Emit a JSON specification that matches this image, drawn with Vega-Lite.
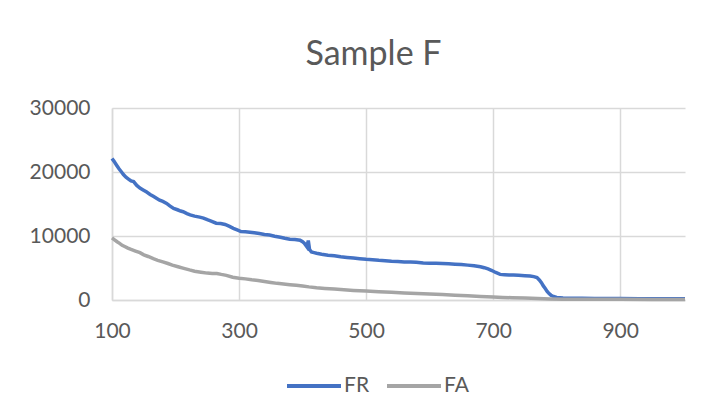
{
 "$schema": "https://vega.github.io/schema/vega-lite/v6.json",
 "width": 573, "height": 192,
 "autosize": {"type": "none"},
 "padding": {"left": 112, "top": 108, "right": 43, "bottom": 117},
 "background": "white",
 "title": {"text": "Sample F", "font": "Lato", "fontSize": 34, "fontWeight": "normal", "color": "#595959", "offset": 25, "dx": -25},
 "data": {"values": [
  {"x":100,"y":22100,"s":"FR"},{"x":103,"y":21700,"s":"FR"},{"x":107,"y":21100,"s":"FR"},{"x":111,"y":20500,"s":"FR"},{"x":115,"y":20000,"s":"FR"},{"x":118,"y":19600,"s":"FR"},{"x":122,"y":19200,"s":"FR"},{"x":126,"y":18900,"s":"FR"},{"x":130,"y":18600,"s":"FR"},{"x":134,"y":18500,"s":"FR"},{"x":139,"y":17900,"s":"FR"},{"x":144,"y":17500,"s":"FR"},{"x":149,"y":17200,"s":"FR"},{"x":154,"y":16900,"s":"FR"},{"x":160,"y":16500,"s":"FR"},{"x":165,"y":16200,"s":"FR"},{"x":170,"y":15900,"s":"FR"},{"x":175,"y":15600,"s":"FR"},{"x":180,"y":15400,"s":"FR"},{"x":186,"y":15100,"s":"FR"},{"x":191,"y":14700,"s":"FR"},{"x":197,"y":14300,"s":"FR"},{"x":203,"y":14100,"s":"FR"},{"x":208,"y":13900,"s":"FR"},{"x":212,"y":13800,"s":"FR"},{"x":218,"y":13500,"s":"FR"},{"x":223,"y":13300,"s":"FR"},{"x":230,"y":13100,"s":"FR"},{"x":238,"y":12950,"s":"FR"},{"x":244,"y":12800,"s":"FR"},{"x":250,"y":12550,"s":"FR"},{"x":257,"y":12300,"s":"FR"},{"x":264,"y":12000,"s":"FR"},{"x":271,"y":11950,"s":"FR"},{"x":278,"y":11800,"s":"FR"},{"x":285,"y":11500,"s":"FR"},{"x":291,"y":11200,"s":"FR"},{"x":297,"y":10950,"s":"FR"},{"x":303,"y":10700,"s":"FR"},{"x":310,"y":10650,"s":"FR"},{"x":317,"y":10600,"s":"FR"},{"x":324,"y":10500,"s":"FR"},{"x":332,"y":10400,"s":"FR"},{"x":340,"y":10250,"s":"FR"},{"x":348,"y":10150,"s":"FR"},{"x":356,"y":9950,"s":"FR"},{"x":365,"y":9800,"s":"FR"},{"x":372,"y":9650,"s":"FR"},{"x":380,"y":9500,"s":"FR"},{"x":388,"y":9450,"s":"FR"},{"x":396,"y":9350,"s":"FR"},{"x":400,"y":9100,"s":"FR"},{"x":403,"y":8850,"s":"FR"},{"x":407,"y":8300,"s":"FR"},{"x":409,"y":9300,"s":"FR"},{"x":411,"y":7900,"s":"FR"},{"x":414,"y":7500,"s":"FR"},{"x":418,"y":7400,"s":"FR"},{"x":422,"y":7300,"s":"FR"},{"x":430,"y":7150,"s":"FR"},{"x":440,"y":7000,"s":"FR"},{"x":450,"y":6900,"s":"FR"},{"x":460,"y":6750,"s":"FR"},{"x":470,"y":6650,"s":"FR"},{"x":480,"y":6550,"s":"FR"},{"x":490,"y":6450,"s":"FR"},{"x":500,"y":6350,"s":"FR"},{"x":510,"y":6300,"s":"FR"},{"x":520,"y":6200,"s":"FR"},{"x":530,"y":6150,"s":"FR"},{"x":540,"y":6050,"s":"FR"},{"x":550,"y":6000,"s":"FR"},{"x":560,"y":5950,"s":"FR"},{"x":570,"y":5950,"s":"FR"},{"x":579,"y":5900,"s":"FR"},{"x":590,"y":5800,"s":"FR"},{"x":600,"y":5750,"s":"FR"},{"x":610,"y":5750,"s":"FR"},{"x":620,"y":5700,"s":"FR"},{"x":630,"y":5650,"s":"FR"},{"x":640,"y":5600,"s":"FR"},{"x":650,"y":5550,"s":"FR"},{"x":660,"y":5450,"s":"FR"},{"x":670,"y":5350,"s":"FR"},{"x":680,"y":5200,"s":"FR"},{"x":686,"y":5050,"s":"FR"},{"x":692,"y":4850,"s":"FR"},{"x":698,"y":4600,"s":"FR"},{"x":704,"y":4300,"s":"FR"},{"x":711,"y":4000,"s":"FR"},{"x":718,"y":3950,"s":"FR"},{"x":725,"y":3900,"s":"FR"},{"x":732,"y":3900,"s":"FR"},{"x":740,"y":3850,"s":"FR"},{"x":750,"y":3800,"s":"FR"},{"x":758,"y":3750,"s":"FR"},{"x":764,"y":3650,"s":"FR"},{"x":769,"y":3500,"s":"FR"},{"x":773,"y":3100,"s":"FR"},{"x":776,"y":2700,"s":"FR"},{"x":779,"y":2200,"s":"FR"},{"x":782,"y":1800,"s":"FR"},{"x":785,"y":1350,"s":"FR"},{"x":788,"y":1000,"s":"FR"},{"x":791,"y":750,"s":"FR"},{"x":795,"y":550,"s":"FR"},{"x":800,"y":400,"s":"FR"},{"x":810,"y":320,"s":"FR"},{"x":820,"y":290,"s":"FR"},{"x":840,"y":270,"s":"FR"},{"x":860,"y":250,"s":"FR"},{"x":880,"y":240,"s":"FR"},{"x":900,"y":230,"s":"FR"},{"x":930,"y":210,"s":"FR"},{"x":960,"y":200,"s":"FR"},{"x":1002,"y":180,"s":"FR"},
  {"x":100,"y":9700,"s":"FA"},{"x":104,"y":9400,"s":"FA"},{"x":108,"y":9100,"s":"FA"},{"x":112,"y":8850,"s":"FA"},{"x":116,"y":8550,"s":"FA"},{"x":120,"y":8350,"s":"FA"},{"x":125,"y":8100,"s":"FA"},{"x":130,"y":7900,"s":"FA"},{"x":137,"y":7650,"s":"FA"},{"x":144,"y":7400,"s":"FA"},{"x":150,"y":7050,"s":"FA"},{"x":157,"y":6800,"s":"FA"},{"x":165,"y":6450,"s":"FA"},{"x":172,"y":6200,"s":"FA"},{"x":180,"y":5950,"s":"FA"},{"x":188,"y":5700,"s":"FA"},{"x":195,"y":5450,"s":"FA"},{"x":204,"y":5200,"s":"FA"},{"x":213,"y":4950,"s":"FA"},{"x":222,"y":4700,"s":"FA"},{"x":230,"y":4500,"s":"FA"},{"x":240,"y":4350,"s":"FA"},{"x":250,"y":4200,"s":"FA"},{"x":258,"y":4150,"s":"FA"},{"x":265,"y":4150,"s":"FA"},{"x":272,"y":4000,"s":"FA"},{"x":280,"y":3850,"s":"FA"},{"x":290,"y":3550,"s":"FA"},{"x":300,"y":3400,"s":"FA"},{"x":310,"y":3300,"s":"FA"},{"x":320,"y":3150,"s":"FA"},{"x":330,"y":3050,"s":"FA"},{"x":340,"y":2900,"s":"FA"},{"x":350,"y":2750,"s":"FA"},{"x":360,"y":2600,"s":"FA"},{"x":370,"y":2500,"s":"FA"},{"x":380,"y":2400,"s":"FA"},{"x":390,"y":2300,"s":"FA"},{"x":400,"y":2200,"s":"FA"},{"x":410,"y":2050,"s":"FA"},{"x":422,"y":1900,"s":"FA"},{"x":435,"y":1800,"s":"FA"},{"x":450,"y":1700,"s":"FA"},{"x":465,"y":1600,"s":"FA"},{"x":480,"y":1500,"s":"FA"},{"x":500,"y":1400,"s":"FA"},{"x":520,"y":1300,"s":"FA"},{"x":540,"y":1200,"s":"FA"},{"x":560,"y":1100,"s":"FA"},{"x":580,"y":1000,"s":"FA"},{"x":600,"y":920,"s":"FA"},{"x":620,"y":850,"s":"FA"},{"x":640,"y":750,"s":"FA"},{"x":660,"y":650,"s":"FA"},{"x":680,"y":550,"s":"FA"},{"x":700,"y":450,"s":"FA"},{"x":715,"y":400,"s":"FA"},{"x":730,"y":350,"s":"FA"},{"x":750,"y":300,"s":"FA"},{"x":770,"y":250,"s":"FA"},{"x":790,"y":170,"s":"FA"},{"x":810,"y":130,"s":"FA"},{"x":850,"y":110,"s":"FA"},{"x":900,"y":100,"s":"FA"},{"x":950,"y":90,"s":"FA"},{"x":1002,"y":80,"s":"FA"}
 ]},
 "mark": {"type": "line", "strokeWidth": 3.5},
 "encoding": {
  "x": {"field": "x", "type": "quantitative",
        "scale": {"domain": [100, 1002], "nice": false, "zero": false},
        "axis": {"values": [100, 300, 500, 700, 900], "title": null, "format": "d", "ticks": false,
                 "labelFlush": false, "labelOverlap": false,
                 "domainColor": "#D9D9D9", "domainWidth": 1.5, "labelPadding": 20,
                 "labelFont": "Lato", "labelFontSize": 21, "labelColor": "#595959",
                 "gridColor": "#D9D9D9", "gridWidth": 1.5}},
  "y": {"field": "y", "type": "quantitative",
        "scale": {"domain": [0, 30000], "nice": false},
        "axis": {"values": [0, 10000, 20000, 30000], "title": null, "format": "d", "ticks": false,
                 "domain": true, "domainColor": "#D9D9D9", "domainWidth": 1.5,
                 "labelPadding": 22, "labelFont": "Lato", "labelFontSize": 21, "labelColor": "#595959",
                 "gridColor": "#D9D9D9", "gridWidth": 1.5}},
  "color": {"field": "s", "type": "nominal",
            "scale": {"domain": ["FR", "FA"], "range": ["#4472C4", "#A5A5A5"]},
            "legend": {"orient": "none", "legendX": 173, "legendY": 249, "direction": "horizontal", "title": null,
                       "symbolType": "stroke", "symbolSize": 2916, "symbolStrokeWidth": 4,
                       "labelFont": "Lato", "labelFontSize": 21, "labelColor": "#595959",
                       "labelOffset": 1, "columnPadding": 9, "padding": 0}}
 },
 "config": {"view": {"stroke": null}}
}
